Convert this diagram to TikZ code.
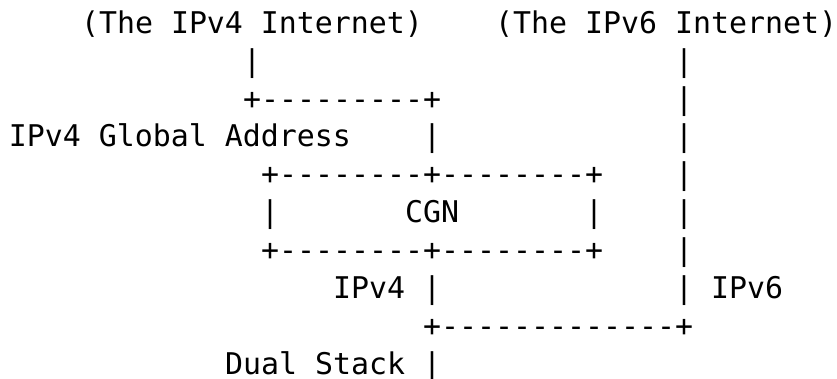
\documentclass[tikz,border=0pt]{standalone}
\usepackage{fontspec}
\setmonofont{DejaVu Sans Mono}
\begin{document}
\begin{tikzpicture}[
  asc/.style={anchor=base west, inner sep=0pt, outer sep=0pt,
    font=\ttfamily\fontsize{29.9}{37.9}\selectfont, text=black}]
\fill[white] (0,0) rectangle (837pt,-379pt);
\useasboundingbox (0,0) rectangle (837pt,-379pt);
\begin{scope}[shift={(9pt,-33.3pt)}, x=18pt, y=-37.9pt]
% row 0
\node[asc] (inet4) at (4,0) {(The IPv4 Internet)};
\node[asc] (inet6) at (27,0) {(The IPv6 Internet)};
% row 1
\node[asc] (v4a) at (13,1) {|};
\node[asc] (v6a) at (37,1) {|};
% row 2
\node[asc] (h4a) at (13,2) {+---------+};
\node[asc] (v6b) at (37,2) {|};
% row 3
\node[asc] (glob) at (0,3) {IPv4 Global Address};
\node[asc] (v4b) at (23,3) {|};
\node[asc] (v6c) at (37,3) {|};
% row 4
\node[asc] (cgntop) at (14,4) {+--------+--------+};
\node[asc] (v6d) at (37,4) {|};
% row 5
\node[asc] (cgnl) at (14,5) {|};
\node[asc] (cgn) at (22,5) {CGN};
\node[asc] (cgnr) at (32,5) {|};
\node[asc] (v6e) at (37,5) {|};
% row 6
\node[asc] (cgnbot) at (14,6) {+--------+--------+};
\node[asc] (v6f) at (37,6) {|};
% row 7
\node[asc] (lab4) at (18,7) {IPv4};
\node[asc] (v4c) at (23,7) {|};
\node[asc] (v6g) at (37,7) {|};
\node[asc] (lab6) at (39,7) {IPv6};
% row 8
\node[asc] (join) at (23,8) {+-------------+};
% row 9
\node[asc] (dual) at (12,9) {Dual Stack};
\node[asc] (v4d) at (23,9) {|};
\end{scope}
\end{tikzpicture}
\end{document}
